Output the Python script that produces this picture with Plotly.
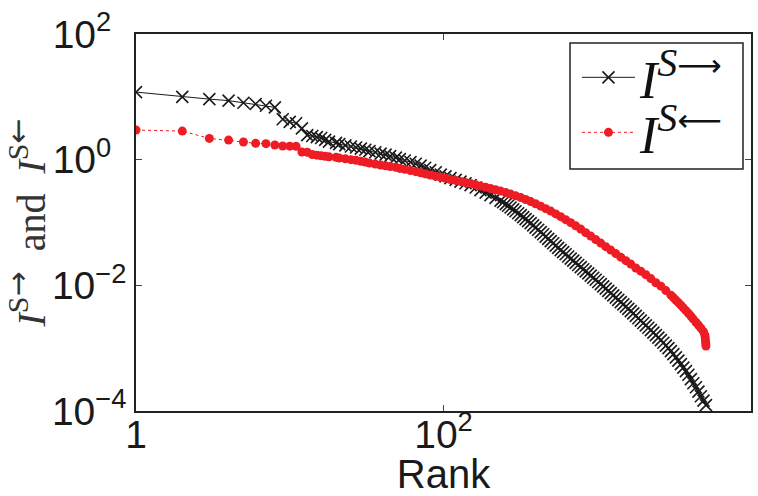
import plotly.graph_objects as go

# ---- data ----
out_rank = [1, 2, 3, 4, 5, 6, 7, 8, 9, 10, 11, 12, 13, 14,
            15, 16, 17, 18, 20, 21, 23, 25, 27, 29, 31, 33, 36, 39, 42, 45, 49, 52, 56, 61,
            66, 71, 76, 82, 89, 96, 103, 111, 120, 129, 139, 150, 162, 174, 188, 202, 218,
            235, 244, 254, 263, 273, 284, 294, 306, 318, 330, 342, 355, 369, 383, 397, 413,
            429, 445, 462, 480, 498, 517, 537, 557, 578, 600, 623, 647, 672, 698, 724, 752,
            781, 811, 841, 874, 907, 942, 977, 1015, 1054, 1094, 1135, 1180, 1224, 1271,
            1320, 1370, 1422, 1477, 1534, 1592, 1652, 1716, 1782, 1850, 1919, 1994, 2070,
            2149, 2232, 2317, 2405, 2497, 2594, 2692, 2794, 2904, 3013, 3127, 3246, 3370,
            3499, 3630, 3774, 3917, 4064, 4217, 4385, 4550, 4721, 4909, 5093]
out_value = [11.9, 10.0, 9.2, 8.7, 8.05, 7.7, 7.2, 6.8, 4.4, 4.0, 3.8, 3.15, 2.46, 2.38,
             2.29, 2.21, 2.07, 1.94, 1.85, 1.77, 1.69, 1.62, 1.56, 1.50, 1.44, 1.37, 1.31, 1.25,
             1.20, 1.14, 1.08, 1.02, 0.968, 0.916, 0.861, 0.805, 0.743, 0.682, 0.630, 0.579,
             0.542, 0.509, 0.477, 0.448, 0.421, 0.394, 0.360, 0.328, 0.299, 0.273, 0.247,
             0.223, 0.210, 0.196, 0.1845, 0.173, 0.162, 0.151, 0.1406, 0.131, 0.122, 0.113,
             0.105, 0.0977, 0.0902, 0.0830, 0.0766, 0.0703, 0.0649, 0.0596, 0.0550, 0.0506,
             0.0467, 0.0429, 0.0395, 0.0364, 0.0337, 0.0312, 0.0288, 0.0266, 0.0247, 0.0228,
             0.0211, 0.0195, 0.0180, 0.0167, 0.0155, 0.01426, 0.0132, 0.01225, 0.01132,
             0.01045, 0.00964, 0.00885, 0.00817, 0.00752, 0.00693, 0.00637, 0.00588, 0.00540,
             0.00498, 0.00458, 0.00423, 0.00388, 0.00357, 0.00327, 0.00299, 0.00274, 0.00252,
             0.00231, 0.00211, 0.00194, 0.00177, 0.00161, 0.00147, 0.00134, 0.00122, 0.00110,
             0.00100, 0.000895, 0.000802, 0.000714, 0.000632, 0.000556, 0.000489, 0.000431,
             0.000377, 0.000321, 0.000277, 0.000239, 0.000203, 0.000172, 0.000146, 0.000124]

in_rank = [1, 2, 3, 4, 5, 6, 7, 8, 9, 10, 11, 12, 13, 14,
           15, 16, 17, 18, 20, 21, 23, 25, 27, 29, 31, 33, 36, 39, 42, 45, 49, 52, 56, 61,
           66, 71, 76, 82, 89, 96, 103, 111, 120, 129, 139, 150, 162, 174, 188, 202, 218,
           235, 254, 273, 294, 318, 342, 369, 397, 429, 462, 498, 537, 578, 623, 672, 724,
           781, 841, 907, 977, 1054, 1135, 1224, 1320, 1422, 1534, 1652, 1782, 1919, 2070,
           2232, 2405, 2594, 2794, 3013, 3127, 3246, 3370, 3499, 3630, 3774, 3917, 4064,
           4200, 4385, 4550, 4721, 4909, 5013, 5040, 5060, 5080, 5093]
in_value = [2.96, 2.85, 2.18, 2.05, 1.91, 1.82, 1.80, 1.71, 1.65, 1.64, 1.63, 1.32, 1.31, 1.21,
            1.18, 1.15, 1.13, 1.11, 1.09, 1.06, 1.03, 1.00, 0.975, 0.944, 0.916, 0.883, 0.851,
            0.820, 0.797, 0.776, 0.757, 0.726, 0.701, 0.670, 0.644, 0.618, 0.594, 0.569, 0.544,
            0.525, 0.504, 0.484, 0.467, 0.451, 0.435, 0.416, 0.398, 0.380, 0.364, 0.347, 0.332,
            0.316, 0.299, 0.283, 0.266, 0.249, 0.232, 0.215, 0.199, 0.182, 0.166, 0.152, 0.137,
            0.124, 0.111, 0.0995, 0.0885, 0.0785, 0.0690, 0.0607, 0.0535, 0.0470, 0.0413,
            0.0364, 0.0320, 0.0281, 0.0247, 0.0218, 0.0189, 0.0168, 0.0148, 0.0128, 0.0110,
            0.00971, 0.00824, 0.00698, 0.00638, 0.00581, 0.00532, 0.00484, 0.00438, 0.00395,
            0.00358, 0.00324, 0.00292, 0.00259, 0.00233, 0.00208, 0.00183, 0.00161, 0.00145,
            0.00130, 0.00118, 0.00108]

x_tickvals = [1, 100, 10000]
x_ticktext = ["1", "10<sup>2</sup>", "10<sup>4</sup>"]
y_tickvals = [1e-4, 1e-2, 1, 100]
FS = "\u2007"  # figure space keeps labels left-aligned like the reference
y_ticktext = ["10<sup>−4</sup>", "10<sup>−2</sup>", "10<sup>0" + FS + "</sup>",
              "10<sup>2" + FS + "</sup>"]

SANS = "Liberation Sans, Arial, sans-serif"
SERIF = "Liberation Serif, Times New Roman, serif"


def arrow(ch, size):
    return ("<span style='font-family:DejaVu Sans;font-size:%dpx'>" % size) + ch + "</span>"


def leg(ch):
    return ("<i>I</i><sup><span style='font-size:40px'><i>S</i>" + arrow(ch, 31)
            + "</span></sup>")


ytitle = ("<i>I</i><sup><span style='font-size:30px'>S" + arrow("→", 30) + "</span></sup>"
          " \u00a0and\u00a0 "
          "<i>I</i><sup><span style='font-size:30px'>S" + arrow("←", 30) + "</span></sup>")

fig = go.Figure()
fig.add_trace(go.Scatter(
    x=out_rank, y=out_value, mode="lines+markers", name=leg("⟶"), legend="legend",
    line=dict(color="#1a1a1a", width=1),
    marker=dict(symbol="x-thin", size=12, line=dict(width=1.6, color="#1a1a1a")),
))
fig.add_trace(go.Scatter(
    x=in_rank, y=in_value, mode="lines+markers", name=leg("⟵"), legend="legend2",
    line=dict(color="#ee1c24", width=1, dash="dot"),
    marker=dict(symbol="circle", size=9, color="#ee1c24"),
))

axis_common = dict(
    type="log", showline=True, linecolor="#222", linewidth=1.5, mirror="ticks",
    ticks="inside", ticklen=6, tickwidth=1, tickcolor="#444",
    showgrid=False, zeroline=False, automargin=False,
    tickfont=dict(family=SANS, size=39, color="#1a1a1a"),
)

legend_common = dict(xanchor="left", yanchor="top", bgcolor="rgba(0,0,0,0)", borderwidth=0,
                     font=dict(family=SERIF, size=52, color="#111"), itemwidth=53)

fig.update_layout(
    width=758, height=496,
    margin=dict(l=136, r=7, t=34, b=85),
    paper_bgcolor="white", plot_bgcolor="white",
    xaxis=dict(axis_common, range=[0, 4], tickvals=x_tickvals, ticktext=x_ticktext,
               ticklabelstandoff=-12,
               title=dict(text="Rank", font=dict(family=SANS, size=40, color="#1a1a1a"),
                          standoff=0)),
    yaxis=dict(axis_common, range=[-4, 2], tickvals=y_tickvals, ticktext=y_ticktext,
               title=dict(text=ytitle,
                          font=dict(family=SERIF, size=40, color="#333"), standoff=10)),
    legend=dict(legend_common, x=0.717, y=0.992),
    legend2=dict(legend_common, x=0.717, y=0.846),
    shapes=[dict(type="rect", xref="paper", yref="paper",
                 x0=0.7057, x1=0.987, y0=0.642, y1=0.976,
                 line=dict(color="#222", width=1.5), fillcolor="white", layer="below")],
    showlegend=True,
)

fig.write_html("out.html", config={"displayModeBar": False},
               post_script="document.body.style.margin='0';")
